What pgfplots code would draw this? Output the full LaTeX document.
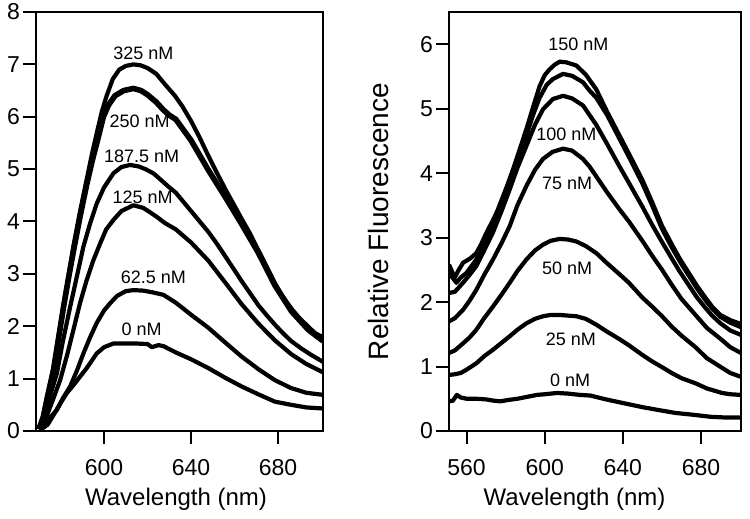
\documentclass[border=0pt]{standalone}
\usepackage{fontspec}
\setmainfont{Liberation Sans}
\usepackage{pgfplots}
\pgfplotsset{compat=1.18}

\pgfplotsset{
  spec/.style={
    scale only axis,
    axis line style={line width=1pt},
    tick style={line width=1pt, black},
    tick align=outside,
    major tick length=6.5pt,
    xtick pos=bottom, ytick pos=left,
    /pgf/number format/assume math mode=true,
    tick label style={font=\fontsize{11.5}{13}\selectfont},
    xticklabel style={yshift=-4pt},
    yticklabel style={xshift=2pt},
    xlabel style={font=\fontsize{12}{14}\selectfont},
    cycle list={{black, solid, mark=none}},
    every axis plot/.append style={line width=2.1pt, line join=round},
  },
}
\tikzset{conc/.style={font=\fontsize{9}{10}\selectfont, inner sep=0pt, anchor=center}}

\begin{document}
\begin{tikzpicture}
\useasboundingbox (0,0) rectangle (375pt,259.5pt);

% left panel
\begin{axis}[spec,
  at={(18pt,44pt)}, anchor=south west,
  width=143.5pt, height=209.5pt,
  xmin=568.7, xmax=700.7, ymin=0, ymax=8,
  xtick={600,640,680}, ytick={0,1,...,8},
  xlabel={Wavelength (nm)},
  xlabel style={at={(axis description cs:0.488,0)}, anchor=north, yshift=-25pt},
]
% 0 nM
\addplot coordinates {(571,0.03)(574,0.12)(576.7,0.3)(579.5,0.5)(582.8,0.72)(586,0.88)(589,1.04)(592,1.2)(594.5,1.35)(596.6,1.48)(600,1.6)(604.3,1.67)(610,1.67)(615,1.67)(620,1.66)(622,1.6)(625,1.64)(627.3,1.62)(633,1.5)(640,1.37)(648,1.2)(656,1.01)(663.3,0.85)(671,0.7)(678.6,0.56)(686,0.5)(693,0.45)(700.7,0.43)};
% 62.5 nM
\addplot coordinates {(571,0.03)(574,0.2)(578.3,0.4)(581,0.62)(584.4,0.85)(587.5,1.15)(590.5,1.48)(593.5,1.78)(596.6,2.06)(600,2.3)(602.8,2.44)(606,2.58)(610,2.67)(613.5,2.69)(618,2.68)(622,2.65)(627.3,2.6)(633,2.45)(640,2.22)(648,1.97)(656,1.68)(663.3,1.42)(671,1.18)(678.6,0.97)(686,0.82)(693,0.73)(700.7,0.69)};
% 125 nM
\addplot coordinates {(571,0.03)(573.5,0.27)(576.5,0.6)(579.8,0.97)(583,1.45)(585.9,1.93)(589,2.45)(592,2.88)(595,3.25)(598.2,3.58)(601,3.85)(604.3,4.03)(608,4.2)(613.5,4.31)(618,4.26)(621,4.18)(624.2,4.09)(628,3.97)(633,3.85)(640,3.6)(648,3.25)(656,2.82)(663.3,2.42)(671,2.05)(678.6,1.73)(686,1.47)(693,1.28)(700.7,1.12)};
% 187.5 nM
\addplot coordinates {(570.5,0.03)(572,0.2)(575,0.65)(578.3,1.1)(581,1.7)(584.4,2.37)(587.5,2.95)(590.5,3.52)(593.5,3.95)(596.6,4.34)(600,4.65)(604.3,4.92)(608,5.04)(612,5.08)(616,5.05)(619,5.0)(622.7,4.92)(626,4.8)(629.5,4.67)(633,4.55)(636,4.4)(640,4.2)(644,4.0)(648,3.8)(652,3.57)(656,3.32)(660,3.07)(663.3,2.86)(667,2.64)(671,2.4)(675,2.2)(678.6,2.03)(682,1.88)(686,1.72)(690.9,1.57)(695,1.46)(700.7,1.32)};
% 250 nM
\addplot+[line width=2.8pt] coordinates {(570,0.03)(572,0.25)(574,0.65)(576.7,1.15)(579,1.75)(581.3,2.35)(584,3.0)(586,3.45)(589,4.1)(592,4.7)(594.5,5.15)(597,5.55)(599.7,6.0)(602,6.22)(605,6.4)(609,6.5)(613.5,6.54)(617,6.5)(620,6.42)(624,6.28)(627.3,6.13)(630,6.03)(633,5.95)(640,5.55)(648,4.98)(656,4.45)(663.3,3.95)(671,3.4)(678.6,2.78)(686.3,2.28)(694,1.93)(700.7,1.72)};
% 325 nM
\addplot coordinates {(570,0.05)(572,0.3)(574,0.7)(576.7,1.2)(579,1.8)(581.3,2.4)(584,3.05)(586,3.55)(589,4.2)(592,4.8)(594.5,5.3)(597,5.75)(599,6.1)(601.2,6.4)(604,6.72)(607,6.9)(610,6.97)(613.5,7.0)(617,6.98)(620,6.93)(624,6.82)(628,6.62)(632.6,6.4)(636,6.2)(640,5.92)(644,5.6)(648,5.25)(652,4.92)(656,4.6)(660,4.3)(663.3,4.05)(667,3.78)(671,3.45)(675,3.12)(678.6,2.82)(682,2.58)(686.3,2.33)(690,2.15)(694,1.99)(697,1.87)(700.7,1.79)};
\node[conc] at (axis cs:618.1,7.21) {325 nM};
\node[conc] at (axis cs:616.4,5.91) {250 nM};
\node[conc] at (axis cs:617.3,5.25) {187.5 nM};
\node[conc] at (axis cs:617.7,4.46) {125 nM};
\node[conc] at (axis cs:622.7,2.94) {62.5 nM};
\node[conc] at (axis cs:617.3,1.94) {0 nM};
\end{axis}

% right panel
\begin{axis}[spec,
  at={(224.5pt,44pt)}, anchor=south west,
  width=146pt, height=209.5pt,
  xmin=551, xmax=700.5, ymin=0, ymax=6.5,
  xtick={560,600,640,680}, ytick={0,1,...,6},
  xlabel={Wavelength (nm)},
  xlabel style={at={(axis description cs:0.43,0)}, anchor=north, yshift=-25pt},
  ylabel={Relative Fluorescence},
  ylabel style={font=\fontsize{14}{16}\selectfont, at={(axis description cs:-0.243,0.5)}, anchor=center},
]
% 0 nM
\addplot coordinates {(551,0.46)(553,0.47)(555,0.56)(557,0.52)(560,0.5)(565,0.5)(570,0.49)(574,0.47)(577.3,0.46)(581,0.48)(586,0.5)(591,0.53)(596,0.56)(600,0.57)(606.3,0.59)(612,0.58)(618,0.56)(623.4,0.55)(630,0.5)(636,0.46)(642.2,0.42)(650,0.37)(659.2,0.32)(667,0.28)(676.6,0.25)(685,0.22)(692,0.21)(700.5,0.21)};
% 25 nM
\addplot coordinates {(551,0.87)(554,0.88)(557,0.9)(559.9,0.95)(565,1.05)(569,1.16)(573.5,1.26)(578,1.37)(582.1,1.47)(586,1.57)(590.6,1.67)(595,1.74)(599.1,1.78)(603,1.8)(607.7,1.8)(612,1.79)(616.2,1.78)(621,1.74)(626.4,1.65)(632,1.54)(638,1.43)(643.1,1.33)(650,1.18)(655,1.08)(660.1,0.99)(665,0.9)(670,0.82)(677.2,0.74)(683,0.66)(690.8,0.59)(695,0.57)(700.5,0.56)};
% 50 nM
\addplot coordinates {(551,1.21)(554,1.25)(558.2,1.36)(561.5,1.45)(565,1.57)(569,1.75)(573.5,1.93)(578,2.12)(582.1,2.3)(586,2.48)(590.6,2.66)(595,2.8)(599.1,2.89)(603,2.95)(607.7,2.98)(612,2.97)(616.2,2.94)(621,2.87)(626.4,2.76)(632,2.6)(638,2.44)(643.1,2.3)(650,2.07)(655,1.93)(660.1,1.78)(665,1.62)(670,1.48)(677.2,1.3)(683,1.13)(690.8,0.98)(695,0.9)(700.5,0.84)};
% 75 nM
\addplot coordinates {(551,1.7)(554,1.75)(558.2,1.88)(561.5,2.02)(565,2.19)(569,2.42)(573.5,2.66)(578,2.92)(582.1,3.18)(586,3.5)(590.6,3.8)(595,4.05)(599.1,4.22)(604,4.33)(609.4,4.38)(614,4.35)(619.6,4.22)(623,4.1)(626.4,3.95)(632,3.7)(638,3.45)(643.1,3.25)(650,2.95)(655,2.72)(660.1,2.5)(665,2.27)(670,2.05)(677.2,1.8)(683,1.6)(690.8,1.41)(695,1.3)(700.5,1.21)};
% 100 nM
\addplot coordinates {(551,2.14)(554,2.16)(558.2,2.3)(561.5,2.42)(565,2.56)(569,2.8)(573.5,3.08)(578,3.42)(582.1,3.75)(586,4.08)(590.6,4.42)(595,4.75)(599.1,4.99)(604.2,5.15)(609.4,5.2)(614,5.16)(619.6,5.05)(623,4.9)(626.4,4.75)(632,4.45)(638,4.12)(643.1,3.85)(650,3.48)(655,3.2)(660.1,2.93)(665,2.68)(669,2.48)(673.8,2.26)(678,2.07)(682,1.92)(685.7,1.79)(690,1.67)(695,1.56)(700.5,1.49)};
% 125 nM
\addplot coordinates {(551,2.45)(554.8,2.3)(557,2.38)(559.9,2.45)(565,2.66)(569,2.92)(573.5,3.23)(577.5,3.55)(582.1,3.9)(586,4.22)(590.6,4.58)(594,4.9)(597.4,5.17)(601,5.37)(604.2,5.46)(609.4,5.54)(614,5.51)(619.6,5.41)(623,5.28)(626.4,5.17)(632,4.9)(638,4.55)(644,4.2)(650,3.84)(655,3.5)(660,3.14)(665,2.85)(670,2.59)(674,2.4)(678,2.21)(682,2.04)(686,1.89)(690,1.77)(695,1.68)(700.5,1.61)};
% 150 nM
\addplot coordinates {(551,2.58)(553.9,2.38)(556,2.5)(558.2,2.61)(562,2.68)(565,2.76)(567.5,2.9)(570.1,3.07)(573.5,3.27)(577,3.49)(580.5,3.78)(583.8,4.06)(587.2,4.37)(590.6,4.68)(594,5.02)(597.4,5.35)(600,5.52)(602.5,5.61)(605,5.68)(607.7,5.73)(611,5.72)(616.2,5.67)(621,5.53)(626.4,5.3)(632,4.95)(638,4.6)(644,4.25)(649.9,3.9)(655,3.55)(660.1,3.18)(665,2.9)(669,2.68)(673.8,2.45)(678,2.25)(682,2.08)(685.7,1.93)(690,1.8)(695,1.72)(700.5,1.66)};
\node[conc] at (axis cs:617.2,6.00) {150 nM};
\node[conc] at (axis cs:611.1,4.60) {100 nM};
\node[conc] at (axis cs:611.5,3.84) {75 nM};
\node[conc] at (axis cs:611.5,2.53) {50 nM};
\node[conc] at (axis cs:613.4,1.415) {25 nM};
\node[conc] at (axis cs:613.0,0.78) {0 nM};
\end{axis}
\end{tikzpicture}
\end{document}
